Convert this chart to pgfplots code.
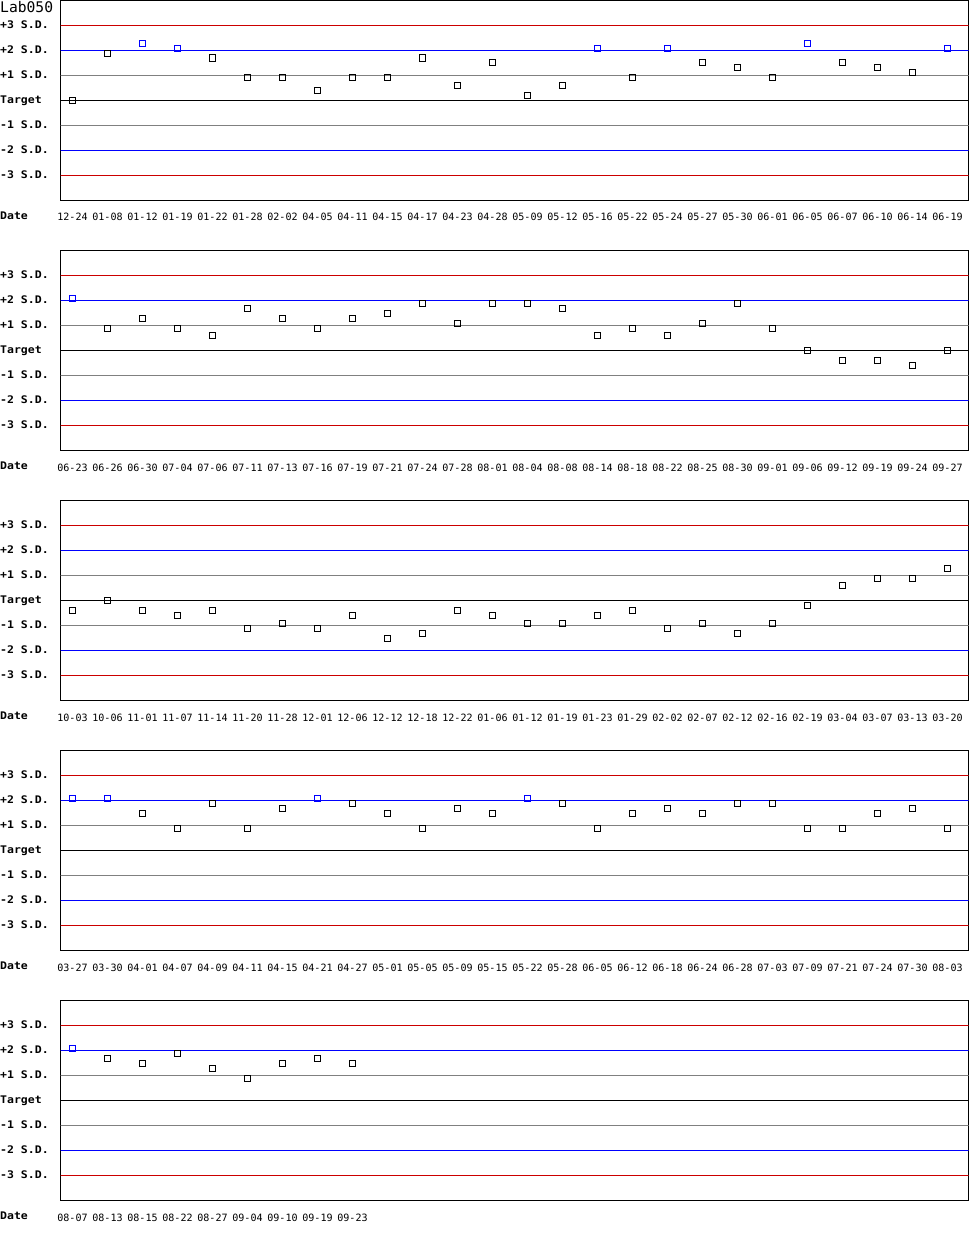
\documentclass[border=0pt]{standalone}
\usepackage{fontspec}
\setmainfont{DejaVu Sans Mono}
\newfontfamily\sdfam[FakeStretch=1.1]{DejaVu Sans Mono Bold}
\usepackage{pgfplots}
\pgfplotsset{compat=1.18}

\definecolor{sdred}{RGB}{204,0,0}
\definecolor{sdblue}{RGB}{0,0,255}
\definecolor{sdgray}{RGB}{128,128,128}

\newcommand{\datefont}{\fontsize{10.1}{10}\selectfont}
\newcommand{\sdfont}{\sdfam\fontsize{10.5}{10.5}\selectfont}

\pgfplotsset{
  qc/.style={
    scale only axis,
    width=908bp, height=200bp,
    anchor=north west,
    xmin=-0.342857, xmax=25.6,
    ymin=-4, ymax=4,
    axis line style={black, line width=1bp},
    major tick length=0pt,
    ytick={-3,-2,-1,0,1,2,3},
    yticklabels={-3 S.D.,-2 S.D.,-1 S.D.,Target,+1 S.D.,+2 S.D.,+3 S.D.},
    yticklabel style={font=\sdfont, anchor=base west, xshift=-60.5bp, yshift=-3bp, inner sep=0pt},
    xticklabel style={font=\datefont, anchor=base, yshift=-20.5bp, inner sep=0pt},
    clip=true,
  },
  sd3/.style={sdred, line width=1bp, no marks, forget plot},
  sd2/.style={sdblue, line width=1bp, no marks, forget plot},
  sd1/.style={sdgray, line width=1bp, no marks, forget plot},
  sd0/.style={black, line width=1bp, no marks, forget plot},
  okpt/.style={only marks, mark=square, mark size=3bp, black, mark options={line width=1bp, fill=none}},
  hipt/.style={only marks, mark=square, mark size=3bp, sdblue, mark options={line width=1bp, fill=none}},
}

% control limit lines, same in every panel
\newcommand{\sdlines}{%
  \addplot[sd3] coordinates {(-1,3) (27,3)};
  \addplot[sd3] coordinates {(-1,-3) (27,-3)};
  \addplot[sd2] coordinates {(-1,2) (27,2)};
  \addplot[sd2] coordinates {(-1,-2) (27,-2)};
  \addplot[sd1] coordinates {(-1,1) (27,1)};
  \addplot[sd1] coordinates {(-1,-1) (27,-1)};
  \addplot[sd0] coordinates {(-1,0) (27,0)};
}

\begin{document}
\begin{tikzpicture}
\path[use as bounding box] (0,0) rectangle (970bp,-1250bp);

% panel 1
\begin{axis}[qc, at={(60.5bp,-0.5bp)},
  xtick={0,...,25},
  xticklabels={12-24,01-08,01-12,01-19,01-22,01-28,02-02,04-05,04-11,04-15,04-17,04-23,04-28,05-09,05-12,05-16,05-22,05-24,05-27,05-30,06-01,06-05,06-07,06-10,06-14,06-19}]
\sdlines
\addplot[okpt] coordinates {(0,0) (1,1.9) (4,1.7) (5,0.9) (6,0.9) (7,0.4) (8,0.9) (9,0.9) (10,1.7) (11,0.6) (12,1.5) (13,0.2) (14,0.6) (16,0.9) (18,1.5) (19,1.3) (20,0.9) (22,1.5) (23,1.3) (24,1.1)};
\addplot[hipt] coordinates {(2,2.3) (3,2.1) (15,2.1) (17,2.1) (21,2.3) (25,2.1)};
\end{axis}

% panel 2
\begin{axis}[qc, at={(60.5bp,-250.5bp)},
  xtick={0,...,25},
  xticklabels={06-23,06-26,06-30,07-04,07-06,07-11,07-13,07-16,07-19,07-21,07-24,07-28,08-01,08-04,08-08,08-14,08-18,08-22,08-25,08-30,09-01,09-06,09-12,09-19,09-24,09-27}]
\sdlines
\addplot[okpt] coordinates {(1,0.9) (2,1.3) (3,0.9) (4,0.6) (5,1.7) (6,1.3) (7,0.9) (8,1.3) (9,1.5) (10,1.9) (11,1.1) (12,1.9) (13,1.9) (14,1.7) (15,0.6) (16,0.9) (17,0.6) (18,1.1) (19,1.9) (20,0.9) (21,0) (22,-0.4) (23,-0.4) (24,-0.6) (25,0)};
\addplot[hipt] coordinates {(0,2.1)};
\end{axis}

% panel 3
\begin{axis}[qc, at={(60.5bp,-500.5bp)},
  xtick={0,...,25},
  xticklabels={10-03,10-06,11-01,11-07,11-14,11-20,11-28,12-01,12-06,12-12,12-18,12-22,01-06,01-12,01-19,01-23,01-29,02-02,02-07,02-12,02-16,02-19,03-04,03-07,03-13,03-20}]
\sdlines
\addplot[okpt] coordinates {(0,-0.4) (1,0) (2,-0.4) (3,-0.6) (4,-0.4) (5,-1.1) (6,-0.9) (7,-1.1) (8,-0.6) (9,-1.5) (10,-1.3) (11,-0.4) (12,-0.6) (13,-0.9) (14,-0.9) (15,-0.6) (16,-0.4) (17,-1.1) (18,-0.9) (19,-1.3) (20,-0.9) (21,-0.2) (22,0.6) (23,0.9) (24,0.9) (25,1.3)};
\end{axis}

% panel 4
\begin{axis}[qc, at={(60.5bp,-750.5bp)},
  xtick={0,...,25},
  xticklabels={03-27,03-30,04-01,04-07,04-09,04-11,04-15,04-21,04-27,05-01,05-05,05-09,05-15,05-22,05-28,06-05,06-12,06-18,06-24,06-28,07-03,07-09,07-21,07-24,07-30,08-03}]
\sdlines
\addplot[okpt] coordinates {(2,1.5) (3,0.9) (4,1.9) (5,0.9) (6,1.7) (8,1.9) (9,1.5) (10,0.9) (11,1.7) (12,1.5) (14,1.9) (15,0.9) (16,1.5) (17,1.7) (18,1.5) (19,1.9) (20,1.9) (21,0.9) (22,0.9) (23,1.5) (24,1.7) (25,0.9)};
\addplot[hipt] coordinates {(0,2.1) (1,2.1) (7,2.1) (13,2.1)};
\end{axis}

% panel 5
\begin{axis}[qc, at={(60.5bp,-1000.5bp)},
  xtick={0,...,8},
  xticklabels={08-07,08-13,08-15,08-22,08-27,09-04,09-10,09-19,09-23}]
\sdlines
\addplot[okpt] coordinates {(1,1.7) (2,1.5) (3,1.9) (4,1.3) (5,0.9) (6,1.5) (7,1.7) (8,1.5)};
\addplot[hipt] coordinates {(0,2.1)};
\end{axis}

% row captions
\foreach \k in {0,...,4} {
  \node[anchor=base west, inner sep=0pt, font=\sdfont] at (0bp,{-219bp-250bp*\k}) {Date};
}
\node[anchor=base west, inner sep=0pt, font=\fontsize{14.7}{14.7}\selectfont] at (0bp,-12.7bp) {Lab050};
\end{tikzpicture}
\end{document}
